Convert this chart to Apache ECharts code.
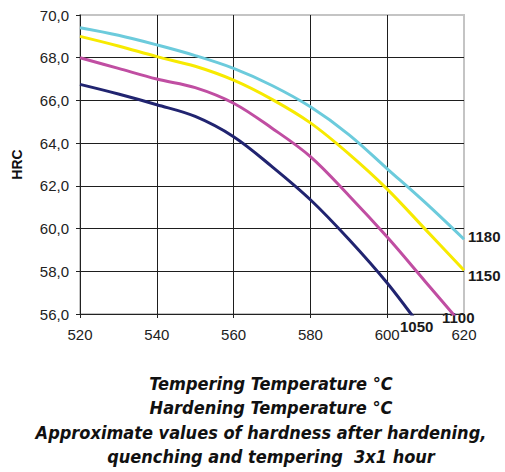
<!DOCTYPE html>
<html>
<head>
<meta charset="utf-8">
<script src="https://cdn.jsdelivr.net/npm/echarts@6/dist/echarts.min.js"></script>
<style>
html,body{margin:0;padding:0;background:#fff;}
#chart{width:505px;height:472px;}
</style>
</head>
<body>
<div id="chart"></div>
<script>
// Tempering temperatures (°C)
var temps = [520, 530, 540, 550, 560, 570, 580, 590, 600, 610, 620];
// Hardness HRC by hardening temperature
var hrc1180 = [69.4, 69.05, 68.6, 68.1, 67.5, 66.7, 65.7, 64.4, 62.8, 61.2, 59.5];
var hrc1150 = [69.0, 68.55, 68.05, 67.6, 66.95, 66.05, 64.95, 63.5, 61.85, 59.95, 58.05];
var hrc1100 = [68.0, 67.5, 67.0, 66.6, 65.87, 64.7, 63.37, 61.55, 59.6, 57.5, 55.4];
var hrc1050 = [66.75, 66.3, 65.8, 65.25, 64.3, 62.9, 61.35, 59.5, 57.45, 55.1, 52.8];
var seriesNames = ['1180', '1150', '1100', '1050'];
var yAxisName = 'HRC';
var captionLines = [
  'Tempering Temperature °C',
  'Hardening Temperature °C',
  'Approximate values of hardness after hardening,',
  'quenching and tempering  3x1 hour'
];

function pairs(ys) { return temps.map(function (t, i) { return [t, ys[i]]; }); }

var chart = echarts.init(document.getElementById('chart'), null, {renderer: 'svg'});
var gridDark = '#1e1e1e';
var font = '"Liberation Sans", Arial, sans-serif';
var capFont = '"Liberation Sans Narrow", "DejaVu Sans Condensed", "Liberation Sans", sans-serif';

function lineSeries(name, ys, color, endLbl) {
  return {
    name: name, type: 'line', data: pairs(ys), smooth: 0.35, symbol: 'none', clip: true,
    lineStyle: {color: color, width: 3},
    endLabel: endLbl ? {show: true, formatter: name, color: '#1a1a1a', fontFamily: font,
      fontWeight: 'bold', fontSize: 15, distance: 4, offset: endLbl} : {show: false},
    animation: false
  };
}

var option = {
  animation: false,
  backgroundColor: '#fff',
  grid: {left: 80, right: 41, top: 15, bottom: 158, show: true, borderColor: '#c4c4c4', borderWidth: 2, backgroundColor: 'transparent'},
  xAxis: {
    type: 'value', min: 520, max: 620, interval: 20,
    axisLine: {show: true, lineStyle: {color: '#222', width: 1}},
    axisTick: {show: true, length: 4, lineStyle: {color: '#222'}},
    axisLabel: {color: '#222', fontFamily: font, fontSize: 15, margin: 13},
    splitLine: {show: true, lineStyle: {color: [gridDark, gridDark, gridDark, gridDark, gridDark, '#c4c4c4'], width: 1}}
  },
  yAxis: {
    type: 'value', min: 56, max: 70, interval: 2,
    name: yAxisName, nameLocation: 'middle', nameGap: 56, nameRotate: 90,
    nameTextStyle: {color: '#111', fontFamily: font, fontWeight: 'bold', fontSize: 14},
    axisLine: {show: true, lineStyle: {color: '#222', width: 1}},
    axisTick: {show: true, length: 4, lineStyle: {color: '#222'}},
    axisLabel: {color: '#222', fontFamily: font, fontSize: 15, margin: 11,
      formatter: function (v) { return v.toFixed(1).replace('.', ','); }},
    splitLine: {show: true, lineStyle: {color: [gridDark, gridDark, gridDark, gridDark, gridDark, gridDark, gridDark, '#c4c4c4'], width: 1}}
  },
  series: [
    lineSeries(seriesNames[0], hrc1180, '#6ccbdc', [0, -3]),
    lineSeries(seriesNames[1], hrc1150, '#f7ea00', [0, 5]),
    lineSeries(seriesNames[2], hrc1100, '#c04ea2', null),
    lineSeries(seriesNames[3], hrc1050, '#212470', null)
  ],
  graphic: [
    {type: 'text', left: 442, top: 310, style: {text: seriesNames[2], fill: '#1a1a1a', font: 'bold 15px ' + font}},
    {type: 'text', left: 400, top: 319, style: {text: seriesNames[3], fill: '#1a1a1a', font: 'bold 15px ' + font}},
    {type: 'text', x: 271, y: 383, style: {text: captionLines[0], fill: '#111', font: 'italic bold 18px ' + capFont, textAlign: 'center', textVerticalAlign: 'middle'}},
    {type: 'text', x: 271, y: 407, style: {text: captionLines[1], fill: '#111', font: 'italic bold 18px ' + capFont, textAlign: 'center', textVerticalAlign: 'middle'}},
    {type: 'text', x: 261, y: 432, style: {text: captionLines[2], fill: '#111', font: 'italic bold 18px ' + capFont, textAlign: 'center', textVerticalAlign: 'middle'}},
    {type: 'text', x: 271, y: 456, style: {text: captionLines[3], fill: '#111', font: 'italic bold 18px ' + capFont, textAlign: 'center', textVerticalAlign: 'middle'}}
  ]
};
chart.setOption(option);
</script>
</body>
</html>
